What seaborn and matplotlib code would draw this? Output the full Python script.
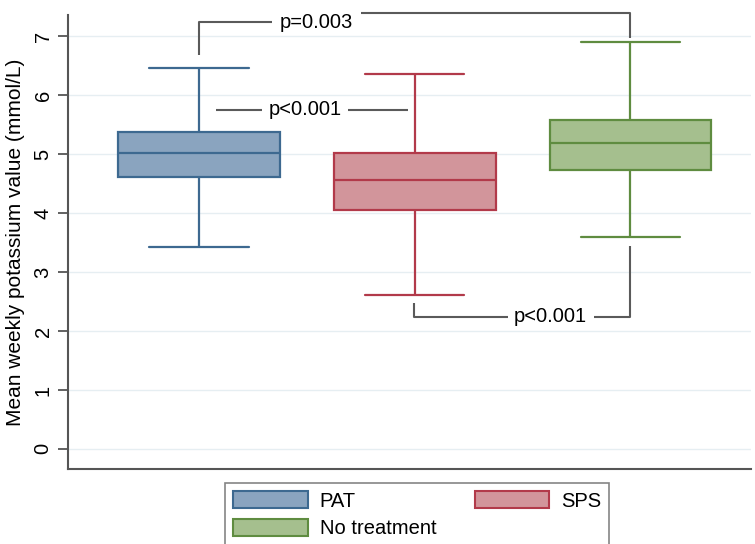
import matplotlib
matplotlib.use("Agg")
import matplotlib.pyplot as plt
from matplotlib.patches import Patch
import numpy as np
import pandas as pd
import seaborn as sns

# five-number summaries: min, Q1, median, Q3, max
groups = ["PAT", "SPS", "No treatment"]
pat_vals = [3.43, 4.61, 5.03, 5.38, 6.46]
sps_vals = [2.61, 4.05, 4.57, 5.03, 6.36]
none_vals = [3.59, 4.74, 5.19, 5.58, 6.90]

fills = ["#8aa4bf", "#d2959b", "#a5bf8e"]
edges = ["#3d6990", "#b23a4a", "#5f8c40"]

# significance brackets (values in mmol/L)
p_labels = ["p=0.003", "p<0.001", "p<0.001"]
bracket_levels = [7.24, 5.76, 2.24]

sns.set_style("white")
plt.rcParams["font.family"] = ["Liberation Sans", "DejaVu Sans"]
plt.rcParams["text.color"] = "black"
plt.rcParams["axes.labelcolor"] = "black"
plt.rcParams["ytick.labelcolor"] = "black"

df = pd.DataFrame({
    "group": np.repeat(groups, 5),
    "value": pat_vals + sps_vals + none_vals,
})

fig = plt.figure(figsize=(7.55, 5.44), dpi=100)
ax = fig.add_axes([0.090, 0.138, 0.905, 0.834])

for grp, fc, ec in zip(groups, fills, edges):
    sub = df[df["group"] == grp]
    sns.boxplot(data=sub, x="group", y="value", order=groups,
                color=fc, linecolor=ec, saturation=1, whis=np.inf,
                width=0.75, linewidth=1.6, ax=ax, capwidths=0.46)

ax.set_xlim(-0.608, 2.56)
ax.set_ylim(-0.34, 7.36)
ax.set_yticks(range(8))
ax.grid(axis="y", color="#e6eef2", linewidth=1)
ax.set_axisbelow(True)
ax.set_xticks([])
ax.set_xlabel("")
ax.set_ylabel("Mean weekly potassium value (mmol/L)", fontsize=15, labelpad=6)
ax.tick_params(axis="y", labelsize=14.5, length=7, width=1.3, color="#555555",
               left=True, labelrotation=90, pad=4)
for lbl in ax.get_yticklabels():
    lbl.set_va("center")
for side in ["top", "right"]:
    ax.spines[side].set_visible(False)
for side in ["left", "bottom"]:
    ax.spines[side].set_color("#555555")
    ax.spines[side].set_linewidth(1.5)

lc = "#5a5a5a"
kw = dict(color=lc, lw=1.5, clip_on=False, solid_capstyle="butt")
lvl = bracket_levels
# PAT vs No treatment
ax.plot([0, 0, 0.34], [6.69, lvl[0], lvl[0]], **kw)
ax.plot([0.75, 2, 2], [lvl[0] + 0.15, lvl[0] + 0.15, 6.98], **kw)
ax.text(0.545, lvl[0], p_labels[0], fontsize=14.5, ha="center", va="center")
# PAT vs SPS
ax.plot([0.078, 0.29], [lvl[1], lvl[1]], **kw)
ax.plot([0.69, 0.968], [lvl[1], lvl[1]], **kw)
ax.text(0.49, lvl[1], p_labels[1], fontsize=14.5, ha="center", va="center")
# SPS vs No treatment
ax.plot([0.995, 0.995, 1.43], [2.47, lvl[2], lvl[2]], **kw)
ax.plot([1.83, 2, 2], [lvl[2], lvl[2], 3.44], **kw)
ax.text(1.627, lvl[2], p_labels[2], fontsize=14.5, ha="center", va="center")

handles = [Patch(facecolor=fills[i], edgecolor=edges[i], linewidth=1.5)
           for i in (0, 2, 1)]
labels = [groups[i] for i in (0, 2, 1)]
leg = fig.legend(handles, labels, loc="upper left",
                 bbox_to_anchor=(0.298, 0.112), ncol=2, fontsize=14.5,
                 frameon=True, fancybox=False, edgecolor="#666666",
                 handlelength=3.7, handleheight=0.95, handletextpad=0.6,
                 columnspacing=1.9, labelspacing=0.4, borderpad=0.4,
                 borderaxespad=0)
leg.get_frame().set_linewidth(1.2)

fig.savefig("out.png", dpi=100)
